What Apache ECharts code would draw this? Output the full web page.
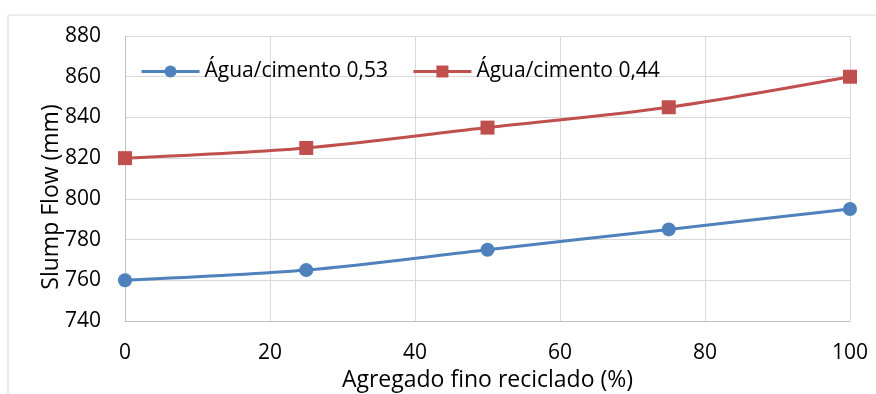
<!DOCTYPE html>
<html><head><meta charset="utf-8">
<script src="https://cdn.jsdelivr.net/npm/echarts@6/dist/echarts.min.js"></script>
<style>html,body{margin:0;padding:0;background:#fff}#c{width:876px;height:394px}</style>
</head><body><div id="c"></div>
<script>
const xValues = [0, 25, 50, 75, 100];
const series053 = [760, 765, 775, 785, 795];
const series044 = [820, 825, 835, 845, 860];
const seriesNames = ['Água/cimento 0,53', 'Água/cimento 0,44'];
const xTitle = 'Agregado fino reciclado (%)';
const yTitle = 'Slump Flow (mm)';

const font = 'Open Sans';
const chart = echarts.init(document.getElementById('c'));
chart.setOption({
  animation: false,
  textStyle: {fontFamily: font},
  graphic: [
    {type: 'rect', shape: {x: 8, y: 15, width: 900, height: 400}, style: {fill: 'none', stroke: '#d9d9d9', lineWidth: 1}, z: 0},
    {type: 'text', x: 51, y: 197, rotation: Math.PI / 2, z: 100,
     style: {text: yTitle, fontSize: 23, fontFamily: font, fill: '#000', align: 'center', verticalAlign: 'middle'}}
  ],
  legend: {
    left: 135, top: 56, itemGap: 24, itemWidth: 58, itemHeight: 15,
    lineStyle: {width: 3},
    textStyle: {fontSize: 21, color: '#000', fontFamily: font},
    data: seriesNames
  },
  grid: {left: 125, right: 26, top: 36, bottom: 73, outerBoundsMode: 'none', containLabel: false},
  xAxis: {
    type: 'value', min: 0, max: 100, interval: 20,
    name: xTitle, nameLocation: 'middle', nameGap: 47,
    nameTextStyle: {fontSize: 23, color: '#000'},
    axisLine: {show: true, lineStyle: {color: '#bfbfbf'}},
    axisTick: {show: false},
    axisLabel: {fontSize: 21, color: '#000', margin: 22},
    splitLine: {show: true, lineStyle: {color: '#d9d9d9', width: 1}}
  },
  yAxis: {
    type: 'value', min: 740, max: 880, interval: 20,
    axisLine: {show: true, lineStyle: {color: '#bfbfbf'}},
    axisTick: {show: false},
    axisLabel: {fontSize: 21, color: '#000', margin: 24},
    splitLine: {show: true, lineStyle: {color: '#d9d9d9', width: 1}}
  },
  series: [
    {name: seriesNames[0], type: 'line', smooth: 0.3, symbol: 'circle', symbolSize: 14,
     data: xValues.map((x, i) => [x, series053[i]]),
     itemStyle: {color: '#4f81bd'}, lineStyle: {color: '#4f81bd', width: 3}},
    {name: seriesNames[1], type: 'line', smooth: 0.3, symbol: 'rect', symbolSize: 14,
     data: xValues.map((x, i) => [x, series044[i]]),
     itemStyle: {color: '#c0504d'}, lineStyle: {color: '#c0504d', width: 3}}
  ]
});
</script></body></html>
